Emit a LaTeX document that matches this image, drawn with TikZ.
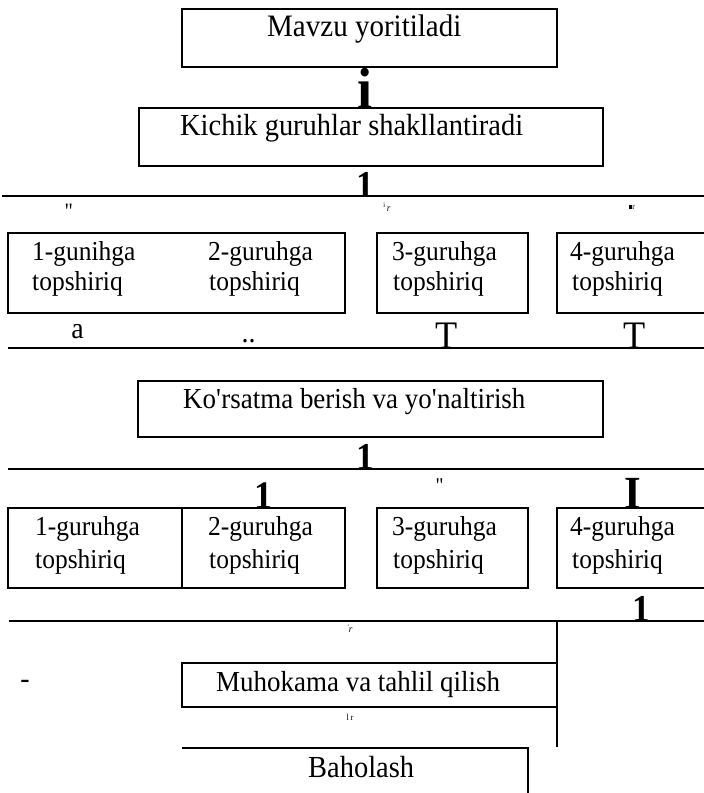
\documentclass[tikz,border=0pt]{standalone}
\usepackage{fontspec}
\setmainfont{Liberation Serif}[FakeStretch=0.93]
\newcommand{\myfs}[1]{\fontsize{#1}{#1}\selectfont}
\newcommand{\nodepth}[1]{\raisebox{0pt}[\height][0pt]{#1}}
\begin{document}
\begin{tikzpicture}[x=1pt,y=-1pt,
  boxst/.style={draw, line width=2.2pt, inner sep=0pt, rectangle},
  rulest/.style={line width=2.2pt},
  bigtxt/.style={inner sep=0pt, anchor=base west, font=\myfs{31.2}},
  grptxt/.style={inner sep=0pt, anchor=base west, font=\myfs{27.4}},
  glyph/.style={inner sep=0pt, anchor=base},
  tinytxt/.style={inner sep=0pt, anchor=base, font=\myfs{10}}]
\useasboundingbox (0,0) rectangle (704,793);
\clip (0,0) rectangle (704,793);

% boxes
\node[boxst, minimum width=375pt, minimum height=58pt] (A) at (369.5,38) {};
\node[boxst, minimum width=464pt, minimum height=58pt] (B) at (371,137) {};
\node[boxst, minimum width=337pt, minimum height=80pt] (G12) at (176.5,273) {};
\node[boxst, minimum width=151pt, minimum height=80pt] (G3) at (452.5,273) {};
\node[boxst, minimum width=155pt, minimum height=80pt] (G4) at (634.5,273) {};
\node[boxst, minimum width=465pt, minimum height=56pt] (K) at (370.5,409) {};
\node[boxst, minimum width=174pt, minimum height=80pt] (H1) at (95,548) {};
\node[boxst, minimum width=163pt, minimum height=80pt] (H2) at (263.5,548) {};
\node[boxst, minimum width=151pt, minimum height=80pt] (H3) at (452.5,548) {};
\node[boxst, minimum width=155pt, minimum height=80pt] (H4) at (634.5,548) {};
\node[boxst, minimum width=375pt, minimum height=44pt] (M) at (369.5,685) {};

% horizontal rules and other lines
\coordinate (l1a) at (2,196);   \coordinate (l1b) at (704,196);
\coordinate (l2a) at (8,348);   \coordinate (l2b) at (704,348);
\coordinate (l3a) at (8,469);   \coordinate (l3b) at (704,469);
\coordinate (l4a) at (9,621);   \coordinate (l4b) at (704,621);
\coordinate (v1a) at (557,621); \coordinate (v1b) at (557,747);
\coordinate (ba) at (182,748);  \coordinate (bb) at (528,748); \coordinate (bc) at (528,800);
\draw[rulest] (l1a) -- (l1b);
\draw[rulest] (l2a) -- (l2b);
\draw[rulest] (l3a) -- (l3b);
\draw[rulest] (l4a) -- (l4b);
\draw[rulest] (v1a) -- (v1b);
\draw[rulest] (ba) -- (bb) -- (bc);

% main texts
\node[bigtxt] (tA) at (267,36) {Mavzu yoritiladi};
\node[bigtxt, font=\myfs{30.6}] (tB) at (180,135) {Kichik guruhlar shakllantiradi};
\node[bigtxt, font=\myfs{29}] (tK) at (183,408) {Ko\textquotesingle rsatma berish va yo\textquotesingle naltirish};
\node[bigtxt, font=\myfs{29}] (tM) at (216,691) {Muhokama va tahlil qilish};
\node[bigtxt, font=\myfs{30.6}] (tBa) at (308,777) {Baholash};

% group texts row 1
\node[grptxt] (g1a) at (32,260) {1-gunihga};
\node[grptxt] (g1b) at (32,290) {topshiriq};
\node[grptxt] (g2a) at (208,260) {2-guruhga};
\node[grptxt] (g2b) at (209,290) {topshiriq};
\node[grptxt] (g3a) at (392,260) {3-guruhga};
\node[grptxt] (g3b) at (393,290) {topshiriq};
\node[grptxt] (g4a) at (570,260) {4-guruhga};
\node[grptxt] (g4b) at (572,290) {topshiriq};

% group texts row 2
\node[grptxt] (h1a) at (35,535) {1-guruhga};
\node[grptxt] (h1b) at (35,568) {topshiriq};
\node[grptxt] (h2a) at (208,535) {2-guruhga};
\node[grptxt] (h2b) at (209,568) {topshiriq};
\node[grptxt] (h3a) at (392,535) {3-guruhga};
\node[grptxt] (h3b) at (393,568) {topshiriq};
\node[grptxt] (h4a) at (570,535) {4-guruhga};
\node[grptxt] (h4b) at (572,568) {topshiriq};

% stray glyphs
\node[glyph, font=\bfseries\myfs{58}] (gi) at (365,108) {\nodepth{i}};
\node[glyph, font=\bfseries\myfs{38}] (g1top) at (365,197) {\nodepth{1}};
\node[glyph, font=\myfs{22}] (q1) at (69,218) {\textquotedbl};
\node[tinytxt] (r1) at (387,211) {\raisebox{4pt}{\myfs{7}i}\,\textit{r}};
\node[tinytxt] (r2) at (632,209) {\rule{3pt}{4.5pt}\myfs{8}r};
\node[glyph, font=\myfs{30}] (ga) at (77.5,338) {a};
\node[glyph, font=\myfs{30}] (gdots) at (248.5,342) {..};
\node[glyph, font=\myfs{39}] (T1) at (447,348) {\nodepth{T}};
\node[glyph, font=\myfs{39}] (T2) at (635,348) {\nodepth{T}};
\node[glyph, font=\bfseries\myfs{38}] (g1mid) at (365,469) {\nodepth{1}};
\node[glyph, font=\bfseries\myfs{39}] (g1box) at (264,508) {\nodepth{1}};
\node[glyph, font=\myfs{21}] (q2) at (440,492) {\textquotedbl};
\node[glyph, font=\bfseries\myfs{46}] (gI) at (633,508) {\nodepth{I}};
\node[glyph, font=\myfs{12}] (tick) at (642,605) {\raisebox{0pt}[0pt][0pt]{\textquotesingle}};
\node[glyph, font=\bfseries\myfs{38}] (g1low) at (641,621) {\nodepth{1}};
\node[tinytxt] (r3) at (350,632) {\raisebox{3pt}{\myfs{7}\textquotesingle}\textit{r}};
\node[glyph, font=\myfs{30}] (dash) at (25,688) {-};
\node[tinytxt, font=\myfs{9}] (r4) at (350,720) {l\,r};
\end{tikzpicture}
\end{document}
